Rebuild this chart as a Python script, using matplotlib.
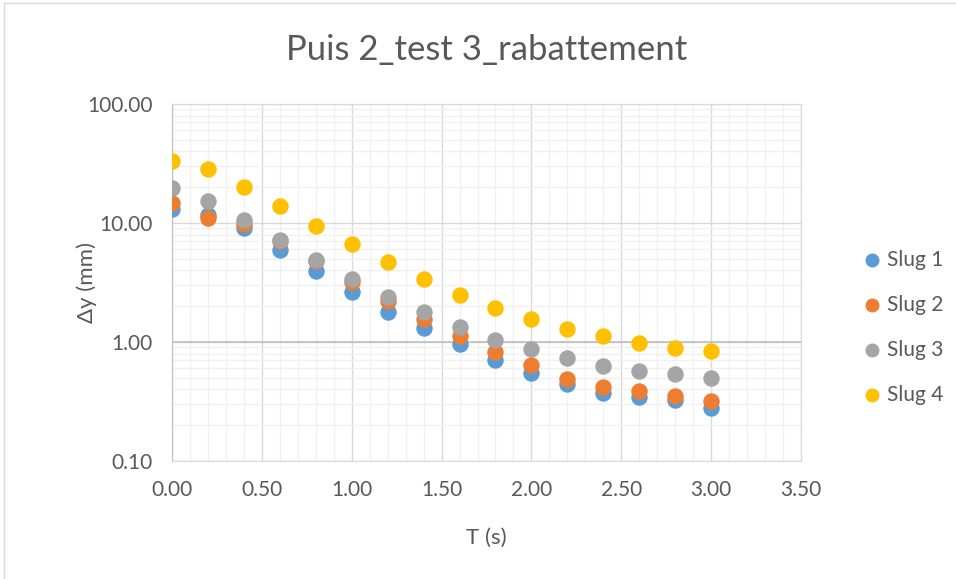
import numpy as np
import matplotlib.pyplot as plt
from matplotlib.ticker import FixedLocator, FuncFormatter, MultipleLocator
from matplotlib.patches import Rectangle

plt.rcParams['font.family'] = ['Lato', 'DejaVu Sans']

t = [0.0, 0.2, 0.4, 0.6, 0.8, 1.0, 1.2, 1.4, 1.6, 1.8, 2.0, 2.2, 2.4, 2.6, 2.8, 3.0]
slug1 = [13.0, 11.7, 9.0, 5.9, 3.95, 2.65, 1.78, 1.30, 0.96, 0.71, 0.545, 0.445, 0.372, 0.343, 0.325, 0.278]
slug2 = [14.6, 11.1, 9.9, 7.0, 4.8, 3.2, 2.21, 1.56, 1.12, 0.83, 0.637, 0.492, 0.419, 0.385, 0.354, 0.319]
slug3 = [19.6, 15.3, 10.6, 7.2, 4.89, 3.37, 2.40, 1.78, 1.33, 1.04, 0.873, 0.738, 0.629, 0.567, 0.542, 0.495]
slug4 = [33.5, 28.2, 20.0, 13.8, 9.5, 6.6, 4.67, 3.37, 2.50, 1.93, 1.55, 1.29, 1.13, 0.98, 0.89, 0.845]

series = [("Slug 1", slug1, "#5B9BD5"),
          ("Slug 2", slug2, "#ED7D31"),
          ("Slug 3", slug3, "#A5A5A5"),
          ("Slug 4", slug4, "#FFC000")]

txt = "#595959"

fig = plt.figure(figsize=(9.56, 5.79), dpi=100)
fig.patches.append(Rectangle((4 / 956, -0.01), 1.0, 1 - 3 / 579 + 0.01,
                             transform=fig.transFigure, fill=False,
                             edgecolor="#D9D9D9", linewidth=1.0))
ax = fig.add_axes([172 / 956, 1 - 461 / 579, (801 - 172) / 956, (461 - 104) / 579])

for name, vals, col in series:
    ax.scatter(t, vals, s=140, color=col, label=name, zorder=3, linewidths=0)

ax.set_yscale("log")
ax.set_xlim(0, 3.5)
ax.set_ylim(0.1, 100)

ax.xaxis.set_major_locator(MultipleLocator(0.5))
ax.xaxis.set_minor_locator(MultipleLocator(0.1))
ax.xaxis.set_major_formatter(FuncFormatter(lambda v, p: f"{v:.2f}"))
ax.yaxis.set_major_locator(FixedLocator([0.1, 1, 10, 100]))
minor_y = [m * 10.0 ** e for e in (-1, 0, 1) for m in range(2, 10)]
ax.yaxis.set_minor_locator(FixedLocator(minor_y))
ax.yaxis.set_major_formatter(FuncFormatter(lambda v, p: f"{v:.2f}"))
ax.yaxis.set_minor_formatter(FuncFormatter(lambda v, p: ""))

ax.grid(True, which="major", color="#D9D9D9", linewidth=1.0, zorder=1)
ax.grid(True, which="minor", color="#F0F0F0", linewidth=1.0, zorder=0)
ax.set_axisbelow(True)
# horizontal axis line crosses at 1
ax.axhline(1.0, color="#BFBFBF", linewidth=1.2, zorder=2)

for side in ["top", "right", "bottom", "left"]:
    ax.spines[side].set_color("#D9D9D9")
ax.spines["left"].set_color("#BFBFBF")

ax.tick_params(which="both", length=0, labelsize=15, colors=txt)
ax.tick_params(axis="x", pad=14)
ax.tick_params(axis="y", pad=14)

ax.set_xlabel("T (s)", fontsize=16, color=txt, labelpad=20)
ax.set_ylabel("Δy (mm)", fontsize=16, color=txt)
ax.yaxis.set_label_coords(-0.12, 0.5)
ax.set_title("Puis 2_test 3_rabattement", fontsize=25, color=txt, pad=32)

ax.legend(loc="center left", bbox_to_anchor=(1.097, 0.375), frameon=False,
          fontsize=15, labelcolor=txt, handlelength=1.0, handletextpad=0.2,
          borderpad=0, borderaxespad=0, labelspacing=1.2, markerscale=0.85)

fig.savefig("out.png", dpi=100)
